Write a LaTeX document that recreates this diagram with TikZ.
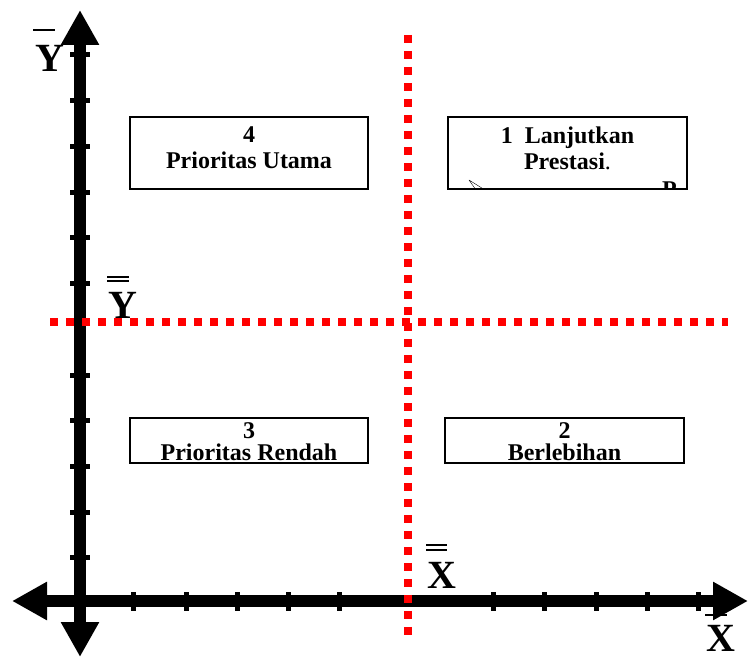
\documentclass[tikz,border=0pt]{standalone}
\usepackage{fontspec}
\setmainfont{Liberation Serif}
\usetikzlibrary{arrows.meta,positioning}

\begin{document}
\begin{tikzpicture}[x=1pt, y=-1pt,
      axis/.style={line width=12pt, >={Triangle[length=35pt,width=36pt]}, <->},
      axistick/.style={line width=5pt},
      meanline/.style={red, line width=8pt, dash pattern=on 8pt off 8pt},
      quadbox/.style={draw, line width=2pt, minimum width=238pt, inner sep=0pt},
      quadtext/.style={font=\fontsize{24}{26}\selectfont\bfseries, align=center, inner sep=0pt},
      lowtext/.style={quadtext, font=\fontsize{24}{22}\selectfont\bfseries},
      barlabel/.style={font=\fontsize{40}{40}\selectfont\bfseries, inner sep=0pt, anchor=base west}]
      \useasboundingbox (0, 0) rectangle (748, 660);
      % axes
      \coordinate (ytop) at (80, 10);
      \coordinate (ybot) at (80, 657);
      \coordinate (xleft) at (12, 601);
      \coordinate (xright) at (748, 601);
      \foreach \y in {55, 101, 147, 193, 238, 284, 376, 421, 467, 513, 558}
            \draw [axistick] (70, \y) -- (90, \y);
      \foreach \x in {133, 186, 237, 288, 339, 493, 544, 596, 647, 698}
            \draw [axistick] (\x, 592) -- (\x, 611);
      \draw [axis] (ybot) -- (ytop);
      \draw [axis] (xleft) -- (xright);
      % mean lines
      \coordinate (xmtop) at (408, 35);
      \coordinate (xmbot) at (408, 636);
      \coordinate (ymleft) at (50, 322);
      \coordinate (ymright) at (728, 322);
      \draw [meanline] (xmtop) -- (xmbot);
      \draw [meanline] (ymleft) -- (ymright);
      % quadrants
      \node [quadbox, minimum height=72pt] (q4) at (249, 153) {};
      \node [quadbox, minimum height=72pt, minimum width=239pt] (q1) at (567.5, 153) {};
      \node [quadbox, minimum height=45pt] (q3) at (249, 440.5) {};
      \node [quadbox, minimum height=45pt, minimum width=239pt] (q2) at (564.5, 440.5) {};
      \node [quadtext, below=11pt of q4.north] (q4t) {4\\Prioritas Utama};
      \node [quadtext, below=11pt of q1.north] (q1t) {1\enspace Lanjutkan\\Prestasi{\mdseries.}};
      \node [lowtext, below=5pt of q3.north] (q3t) {3\\Prioritas Rendah};
      \node [lowtext, below=5pt of q2.north] (q2t) {2\\Berlebihan};
      \begin{scope}
            \clip (q1.south west) rectangle (q1.north east);
            \node [quadtext, anchor=north west] (q1p) at (662, 182) {P};
            \draw [thin] (469, 180) -- (485, 190) (469, 180) -- (476, 190);
      \end{scope}
      % mean labels
      \node [barlabel] (ybar) at (35, 72) {Y};
      \draw [line width=1.5pt] (33, 30) -- (55, 30);
      \node [barlabel] (ybarbar) at (108, 319) {Y};
      \draw [line width=1.5pt] (107, 277) -- (129, 277) (107, 281) -- (129, 281);
      \node [barlabel] (xbarbar) at (427, 589) {X};
      \draw [line width=1.5pt] (426, 545) -- (447, 545) (426, 550) -- (447, 550);
      \node [barlabel] (xbar) at (706, 651) {X};
      \draw [line width=1.5pt] (705, 615) -- (727, 615);
\end{tikzpicture}
\end{document}
